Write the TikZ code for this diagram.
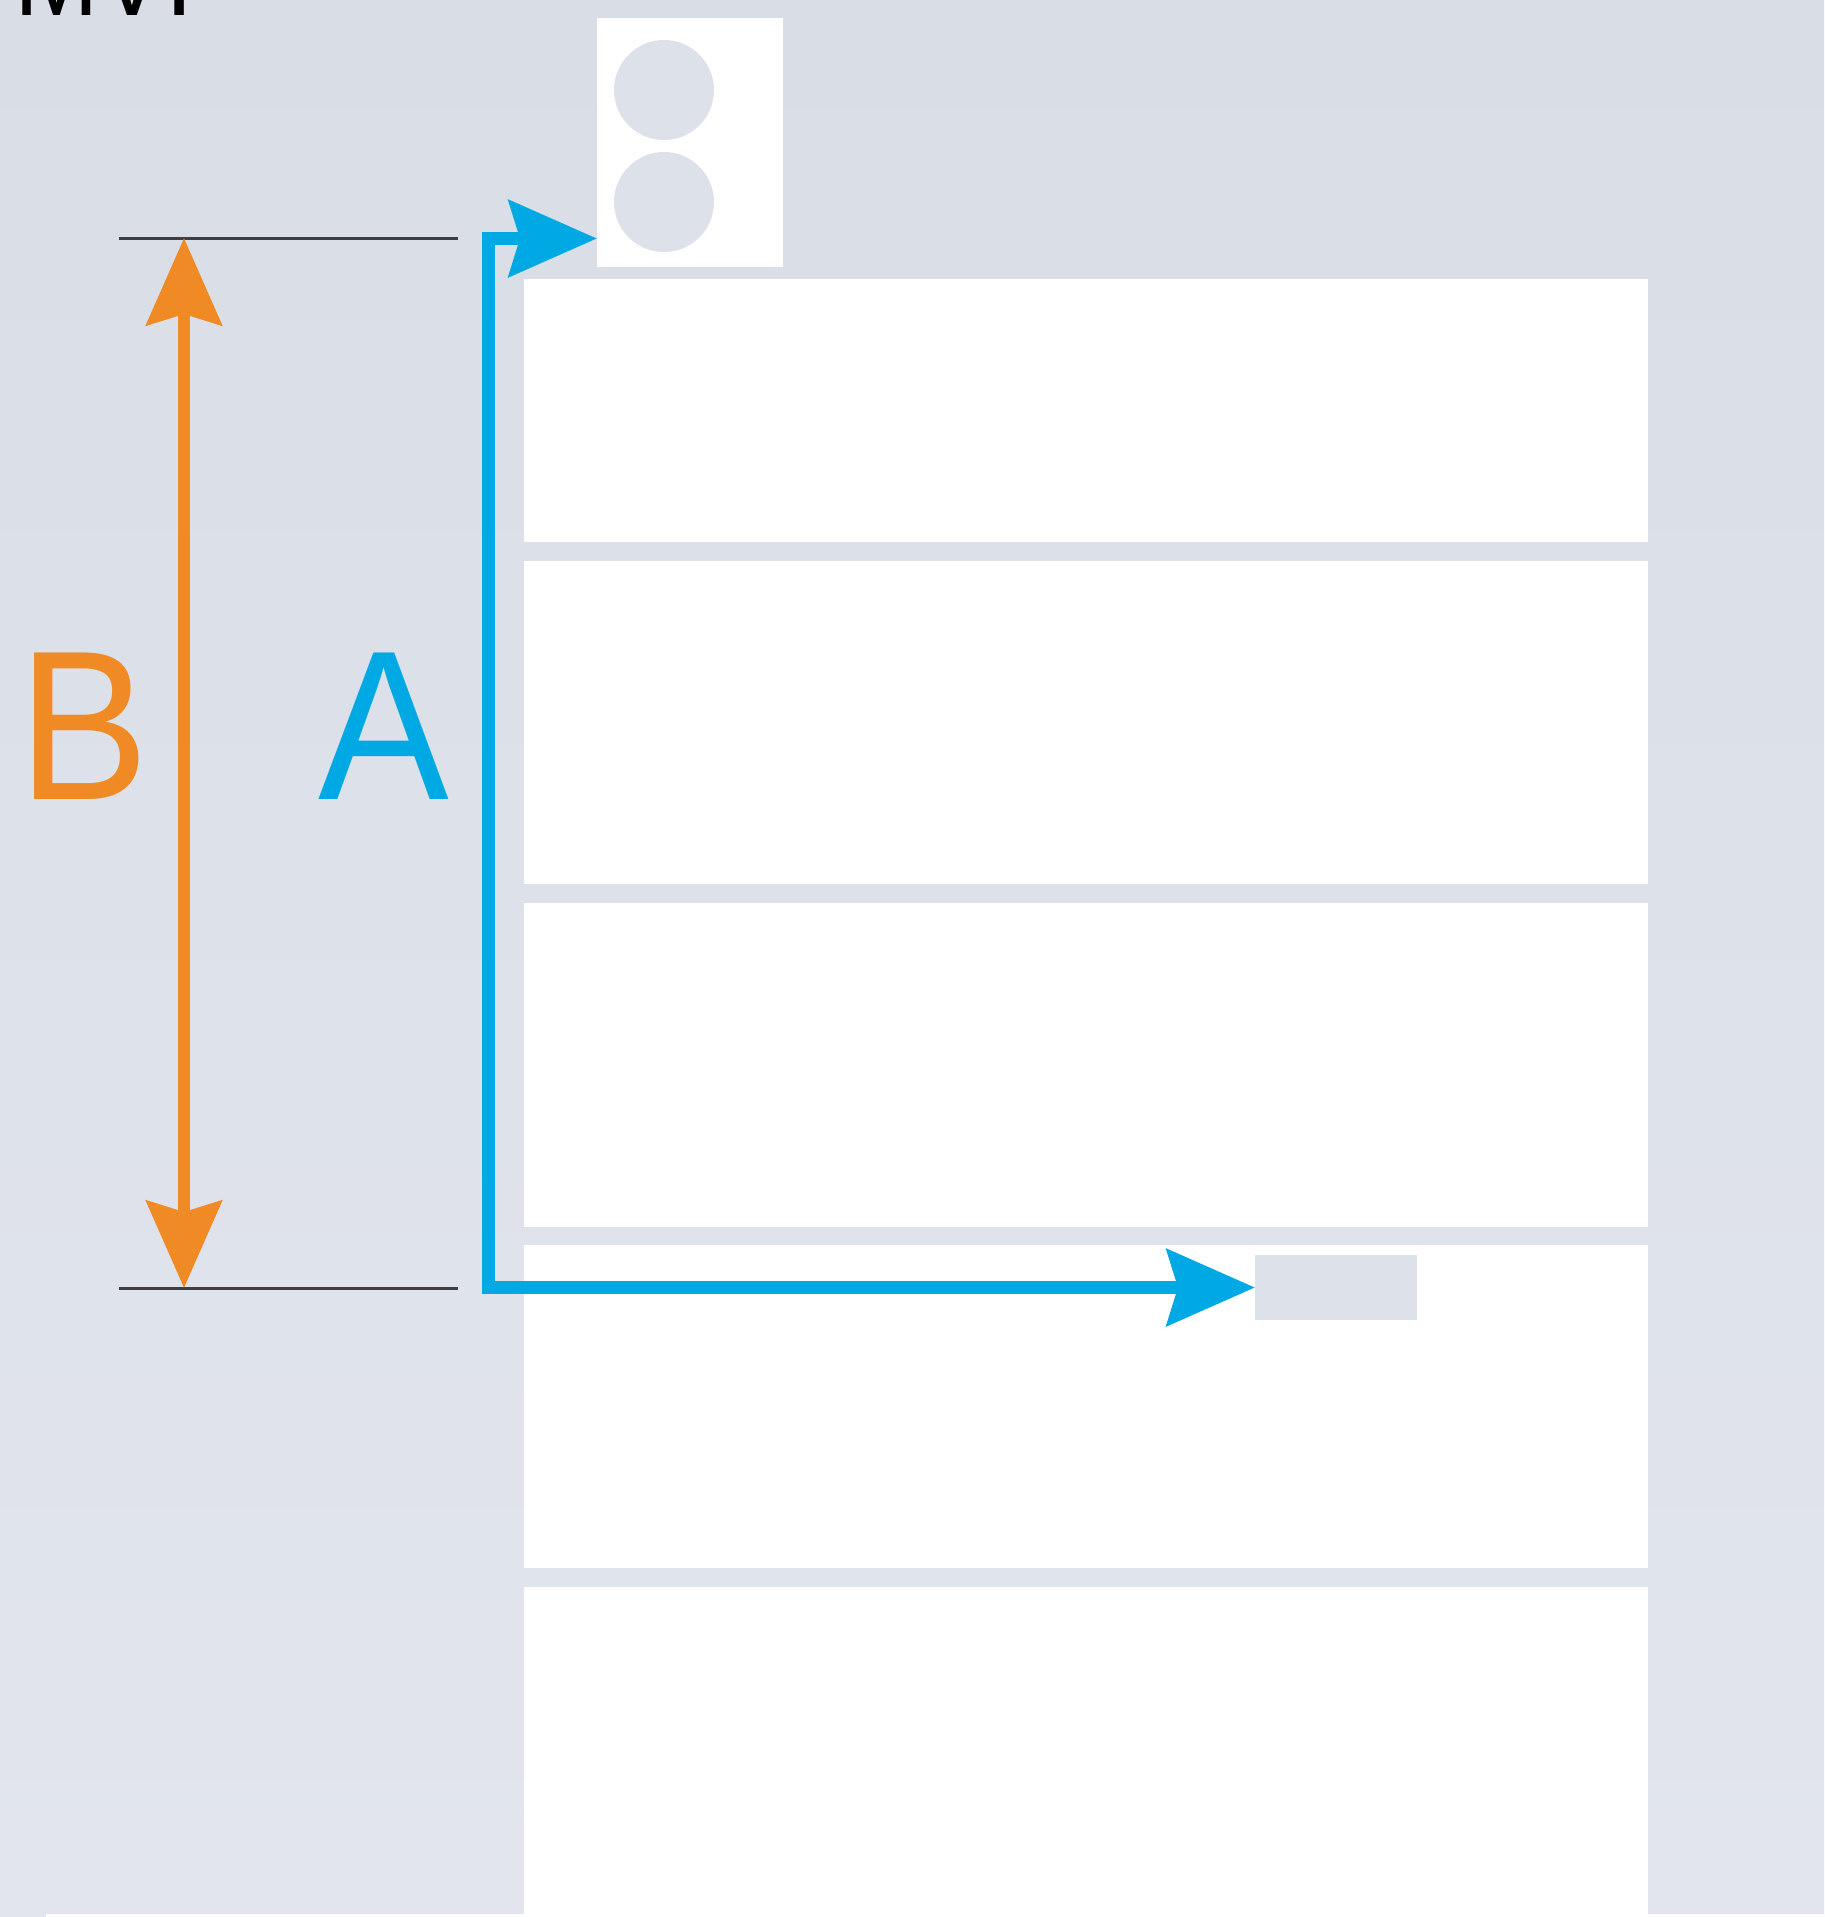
\documentclass[tikz,border=0pt]{standalone}
\usepackage{fontspec}
\setmainfont{Liberation Sans}
\usetikzlibrary{arrows.meta}
\definecolor{bgtop}{RGB}{217,222,230}
\definecolor{bgbot}{RGB}{226,229,238}
\definecolor{bluearr}{RGB}{0,169,228}
\definecolor{orangearr}{RGB}{240,138,36}
\definecolor{dotgrey}{RGB}{221,225,233}
\definecolor{tickgrey}{RGB}{62,62,66}
\begin{document}
\begin{tikzpicture}[x=1pt,y=-1pt,
  panel/.style={rectangle, fill=white, draw=none, inner sep=0pt, anchor=north west, minimum width=1124pt},
  dotc/.style={circle, fill=dotgrey, draw=none, inner sep=0pt, minimum size=100pt},
  tickline/.style={draw=tickgrey, line width=3pt},
  bluepath/.style={draw=bluearr, line width=13pt, {Stealth[length=88pt, width=76pt, inset=11pt]}-{Stealth[length=88pt, width=76pt, inset=11pt]}},
  orangepath/.style={draw=orangearr, line width=12pt, {Stealth[length=87pt, width=75pt, inset=11pt]}-{Stealth[length=87pt, width=75pt, inset=11pt]}},
  biglabel/.style={inner sep=0pt, anchor=base, xscale=0.92, font=\fontsize{213}{250}\selectfont}
]
\useasboundingbox (0,0) rectangle (1824,1917);
\shade[top color=bgtop, bottom color=bgbot] (0,0) rectangle (1824,1917);

% cut-off title
\node[inner sep=0pt, anchor=base west, font=\fontsize{118}{140}\selectfont, xscale=0.86] (title) at (14,15) {MVP};

% panels
\node[panel, minimum height=263pt] (p1) at (524,279) {};
\node[panel, minimum height=323pt] (p2) at (524,561) {};
\node[panel, minimum height=324pt] (p3) at (524,903) {};
\node[panel, minimum height=323pt] (p4) at (524,1245) {};
\node[panel, minimum height=330pt] (p5) at (524,1587) {};
\fill[white] (46,1914) rectangle (1824,1917);

% top box with two circles
\node[rectangle, fill=white, inner sep=0pt, anchor=north west, minimum width=186pt, minimum height=249pt] (topbox) at (597,18) {};
\node[dotc] (c1) at (664,90) {};
\node[dotc] (c2) at (664,202) {};

% small grey target
\node[rectangle, fill=dotgrey, inner sep=0pt, anchor=north west, minimum width=162pt, minimum height=65pt] (target) at (1255,1255) {};

% dimension ticks
\coordinate (t1a) at (119,238);
\coordinate (t1b) at (458,238);
\coordinate (t2a) at (119,1288);
\coordinate (t2b) at (458,1288);
\draw[tickline] (t1a) -- (t1b);
\draw[tickline] (t2a) -- (t2b);

% orange dimension B
\coordinate (otop) at (184,238);
\coordinate (obot) at (184,1288);
\draw[orangepath] (otop) -- (obot);

% blue path A
\coordinate (bturn1) at (488,238.5);
\coordinate (bturn2) at (488,1287.5);
\draw[bluepath] (topbox.west |- bturn1) -- (bturn1) -- (bturn2) -- (target.west |- bturn2);

% labels
\node[biglabel, text=orangearr] (lblB) at (84,799) {B};
\node[biglabel, text=bluearr] (lblA) at (384,799) {A};
\end{tikzpicture}
\end{document}
